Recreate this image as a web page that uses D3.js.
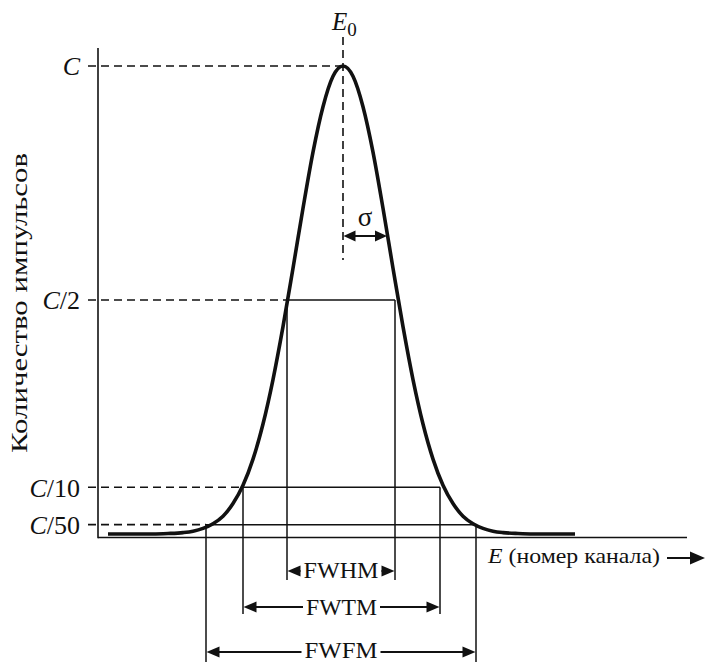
<!DOCTYPE html>
<html>
<head>
<meta charset="utf-8">
<script src="https://cdn.jsdelivr.net/npm/d3@7"></script>
<style>
  body { margin: 0; background: #fff; }
  svg text { font-family: "Liberation Serif", "Times New Roman", serif; fill: #111; }
</style>
</head>
<body>
<svg id="chart" width="706" height="662"></svg>
<script>
// curve: channel number -> counts (C = 1000)
var channels = [10, 55, 70, 85, 95, 105, 115, 125, 135, 145, 155, 165, 175, 185, 195, 205, 215, 225, 235,
                245, 255, 265, 275, 285, 295, 305, 315, 325, 335, 345, 355, 365, 375, 385, 395, 405, 420, 435, 477]
var counts   = [0, 0, 1, 3, 6, 12, 22, 38, 65, 104, 160, 235, 330, 443, 568, 696, 816, 913, 978,
                1000, 978, 913, 816, 696, 568, 443, 330, 235, 160, 104, 65, 38, 22, 12, 6, 3, 1, 0, 0]

var peakChannel = 245
var sigma = 44

// levels marked on the y axis
var levelNames  = ["C", "C/2", "C/10", "C/50"]
var levelCounts = [1000, 500, 100, 20]
var levelLeft   = [245, 189, 145, 108]
var levelRight  = [245, 297, 342, 378]
var widthNames  = ["", "FWHM", "FWTM", "FWFM"]

var xMax = 589

// layout
var arrowY   = [0, 571, 607, 652]
var textBase = [0, 578, 615, 658]
var dropTo   = [0, 580, 614, 662]
var textLen  = [0, 75, 71, 73]
var ink = "#111"

var svg = d3.select("#chart")

var x = d3.scaleLinear().domain([0, 600]).range([98, 698])
var y = d3.scaleLinear().domain([0, 1000]).range([534, 66])

var baseY = 537.5

function head(g, tipX, tipY, dir, len, half) {
  // dir: -1 points left, 1 points right
  g.append("path")
    .attr("d", "M" + tipX + "," + tipY +
               "L" + (tipX - dir * len) + "," + (tipY - half) +
               "L" + (tipX - dir * len) + "," + (tipY + half) + "Z")
    .attr("fill", ink)
}

// axes lines
svg.append("line")
  .attr("x1", x(0)).attr("x2", x(0))
  .attr("y1", 48).attr("y2", baseY + 0.75)
  .attr("stroke", ink).attr("stroke-width", 1.6)

svg.append("line")
  .attr("x1", x(0)).attr("x2", x(xMax))
  .attr("y1", baseY).attr("y2", baseY)
  .attr("stroke", ink).attr("stroke-width", 1.6)

// y axis labels through d3 axis
var yAxis = d3.axisLeft(y).tickValues(levelCounts).tickSize(0).tickPadding(18).tickFormat("")
var ya = svg.append("g").attr("transform", "translate(" + x(0) + ",0)").call(yAxis)
ya.select(".domain").remove()
ya.selectAll(".tick text")
  .each(function (d, i) {
    var t = d3.select(this)
    var parts = levelNames[i].split("/")
    t.attr("font-size", 26).attr("dy", "0.34em").attr("font-family", "Liberation Serif, serif").attr("fill", ink)
    t.append("tspan").attr("font-style", "italic").text(parts[0])
    if (parts.length > 1) t.append("tspan").text("/" + parts[1])
  })

// level lines: dashed from the axis to the curve, solid across the peak
levelCounts.forEach(function (c, i) {
  var ly = y(c)
  svg.append("line")
    .attr("x1", 88).attr("x2", x(levelLeft[i]))
    .attr("y1", ly).attr("y2", ly)
    .attr("stroke", ink).attr("stroke-width", 1.6)
    .attr("stroke-dasharray", "8,5")
  if (i > 0) {
    svg.append("line")
      .attr("x1", x(levelLeft[i])).attr("x2", x(levelRight[i]))
      .attr("y1", ly).attr("y2", ly)
      .attr("stroke", ink).attr("stroke-width", 1.5)
    ;[levelLeft[i], levelRight[i]].forEach(function (ch) {
      svg.append("line")
        .attr("x1", x(ch)).attr("x2", x(ch))
        .attr("y1", ly).attr("y2", dropTo[i])
        .attr("stroke", ink).attr("stroke-width", 1.5)
    })
    // width arrows
    var g = svg.append("g")
    var xl = x(levelLeft[i]), xr = x(levelRight[i]), xm = (xl + xr) / 2
    g.append("text")
      .attr("x", xm).attr("y", textBase[i])
      .attr("text-anchor", "middle")
      .attr("font-size", 23)
      .attr("textLength", textLen[i])
      .attr("lengthAdjust", "spacingAndGlyphs")
      .text(widthNames[i])
    var tl = xm - textLen[i] / 2 - 3, tr = xm + textLen[i] / 2 + 3
    g.append("line").attr("x1", xl + 8).attr("x2", tl).attr("y1", arrowY[i]).attr("y2", arrowY[i])
      .attr("stroke", ink).attr("stroke-width", 2)
    g.append("line").attr("x1", tr).attr("x2", xr - 8).attr("y1", arrowY[i]).attr("y2", arrowY[i])
      .attr("stroke", ink).attr("stroke-width", 2)
    head(g, xl + 0.5, arrowY[i], -1, 13, 5.5)
    head(g, xr - 0.5, arrowY[i], 1, 13, 5.5)
  }
})

// E0 dashed vertical
svg.append("line")
  .attr("x1", x(peakChannel)).attr("x2", x(peakChannel))
  .attr("y1", 37).attr("y2", 260)
  .attr("stroke", ink).attr("stroke-width", 1.6)
  .attr("stroke-dasharray", "8,5")

var e0 = svg.append("text")
  .attr("x", x(peakChannel) - 11).attr("y", 30)
  .attr("font-size", 25)
e0.append("tspan").attr("font-style", "italic").text("E")
e0.append("tspan").attr("font-size", 19).attr("dy", 6).text("0")

// sigma arrow
var sg = svg.append("g")
var sy = 236
sg.append("line")
  .attr("x1", x(peakChannel) + 8).attr("x2", x(peakChannel + sigma) - 8)
  .attr("y1", sy).attr("y2", sy)
  .attr("stroke", ink).attr("stroke-width", 2)
head(sg, x(peakChannel) + 0.5, sy, -1, 12, 5.5)
head(sg, x(peakChannel + sigma), sy, 1, 12, 5.5)
sg.append("text")
  .attr("x", x(peakChannel + sigma / 2)).attr("y", 226)
  .attr("text-anchor", "middle")
  .attr("font-size", 27)
  .text("σ")

// the peak
var line = d3.line()
  .x(function (d, i) { return x(channels[i]) })
  .y(function (d) { return y(d) })
  .curve(d3.curveMonotoneX)

svg.append("path")
  .datum(counts)
  .attr("d", line)
  .attr("fill", "none")
  .attr("stroke", ink)
  .attr("stroke-width", 3.6)
  .attr("stroke-linejoin", "round")

// x axis label and arrow
var xl = svg.append("text")
  .attr("x", 488).attr("y", 563)
  .attr("font-size", 22)
  .attr("textLength", 172)
  .attr("lengthAdjust", "spacingAndGlyphs")
xl.append("tspan").attr("font-style", "italic").text("E")
xl.append("tspan").text(" (номер канала)")
svg.append("line")
  .attr("x1", 667).attr("x2", 694)
  .attr("y1", 558).attr("y2", 558)
  .attr("stroke", ink).attr("stroke-width", 2)
head(svg, 705, 558, 1, 15, 6.5)

// y axis title
svg.append("text")
  .attr("transform", "translate(27,303) rotate(-90)")
  .attr("text-anchor", "middle")
  .attr("font-size", 23)
  .attr("textLength", 300)
  .attr("lengthAdjust", "spacingAndGlyphs")
  .text("Количество импульсов")
</script>
</body>
</html>
